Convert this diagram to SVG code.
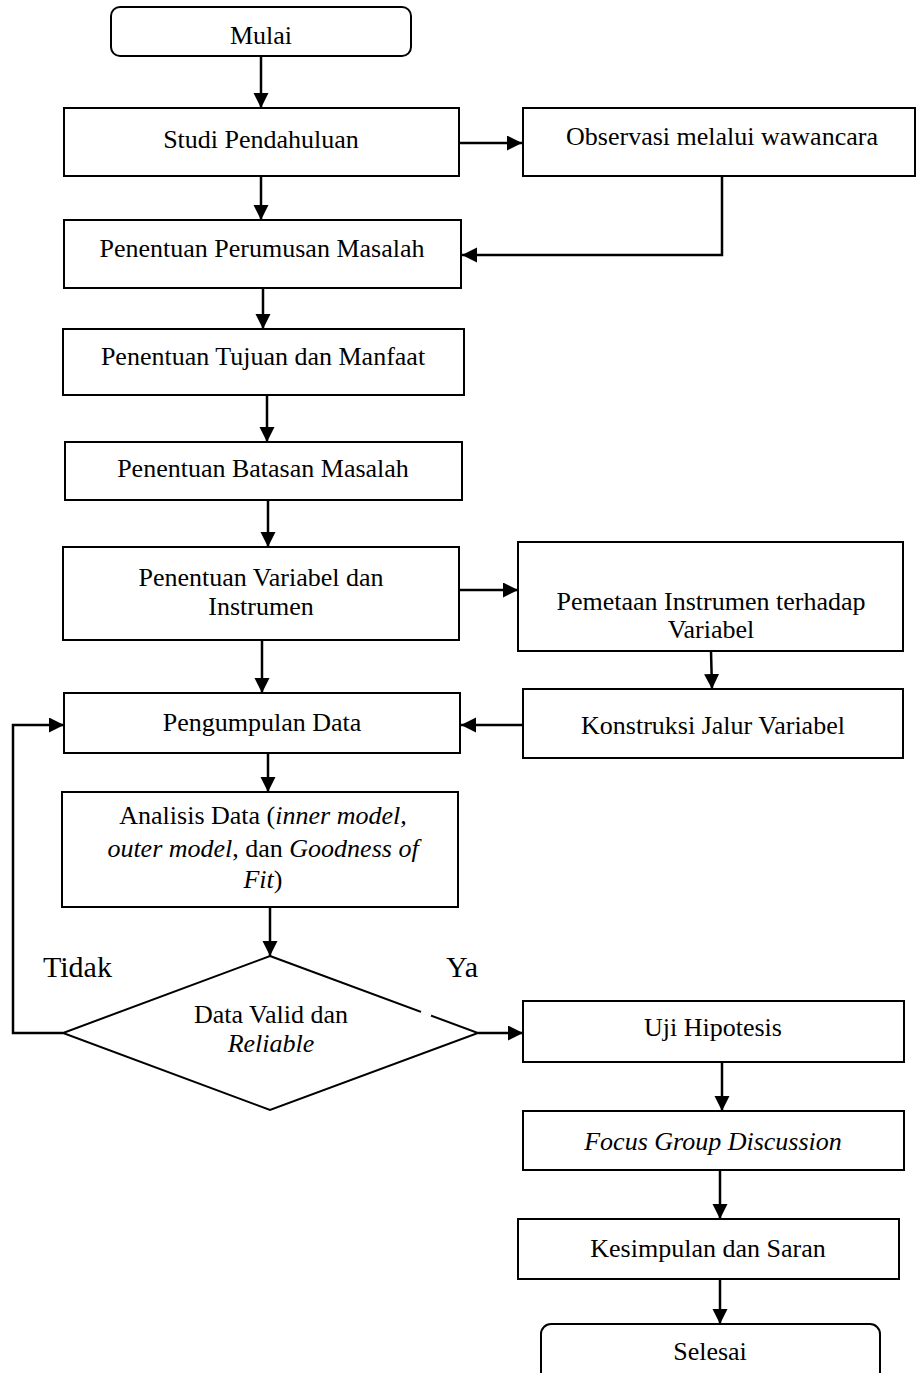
<svg xmlns="http://www.w3.org/2000/svg" width="917" height="1373" viewBox="0 0 917 1373">
  <style>
    .box { fill: #ffffff; stroke: #000000; stroke-width: 2; }
    .lbl { font-family: "Liberation Serif", "Times New Roman", serif; font-size: 26px; fill: #000000; text-anchor: middle; }
    .big { font-family: "Liberation Serif", "Times New Roman", serif; font-size: 30px; fill: #000000; }
    .it { font-style: italic; }
    .conn { fill: none; stroke: #000000; stroke-width: 2.5; marker-end: url(#arrow); }
  </style>
  <defs>
    <marker id="arrow" markerUnits="userSpaceOnUse" markerWidth="16" markerHeight="16" refX="15" refY="7.5" orient="auto">
      <path d="M0,0 L15,7.5 L0,15 Z" fill="#000000"/>
    </marker>
  </defs>
  <rect width="917" height="1373" fill="#ffffff"/>

  <g id="connectors">
    <path class="conn" d="M261,56 L261,108"/>
    <path class="conn" d="M459,143 L522,143"/>
    <path class="conn" d="M261,176 L261,220"/>
    <path class="conn" d="M722,176 L722,255 L462,255"/>
    <path class="conn" d="M263,288 L263,329"/>
    <path class="conn" d="M267,395 L267,442"/>
    <path class="conn" d="M268,500 L268,547"/>
    <path class="conn" d="M459,590 L518,590"/>
    <path class="conn" d="M711,651 L712,689"/>
    <path class="conn" d="M523,725 L461,725"/>
    <path class="conn" d="M262,640 L262,693"/>
    <path class="conn" d="M268,748 L268,792"/>
    <path class="conn" d="M270,908 L270,956"/>
    <path class="conn" d="M478,1033 L523,1033"/>
    <path class="conn" d="M63,1033 L13,1033 L13,725 L64,725"/>
    <path class="conn" d="M722,1062 L722,1111"/>
    <path class="conn" d="M720,1170 L720,1219"/>
    <path class="conn" d="M720,1279 L720,1324"/>
  </g>

  <g id="mulai">
    <rect class="box" x="111" y="7" width="300" height="49" rx="9"/>
    <text class="lbl" x="261" y="44">Mulai</text>
  </g>
  <g id="studi">
    <rect class="box" x="64" y="108" width="395" height="68"/>
    <text class="lbl" x="261" y="148">Studi Pendahuluan</text>
  </g>
  <g id="observasi">
    <rect class="box" x="523" y="108" width="392" height="68"/>
    <text class="lbl" x="722" y="145">Observasi melalui wawancara</text>
  </g>
  <g id="perumusan">
    <rect class="box" x="64" y="220" width="397" height="68"/>
    <text class="lbl" x="262" y="257">Penentuan Perumusan Masalah</text>
  </g>
  <g id="tujuan">
    <rect class="box" x="63" y="329" width="401" height="66"/>
    <text class="lbl" x="263" y="365">Penentuan Tujuan dan Manfaat</text>
  </g>
  <g id="batasan">
    <rect class="box" x="65" y="442" width="397" height="58"/>
    <text class="lbl" x="263" y="477">Penentuan Batasan Masalah</text>
  </g>
  <g id="variabel">
    <rect class="box" x="63" y="547" width="396" height="93"/>
    <text class="lbl" x="261" y="586">Penentuan Variabel dan</text>
    <text class="lbl" x="261" y="615">Instrumen</text>
  </g>
  <g id="pemetaan">
    <rect class="box" x="518" y="542" width="385" height="109"/>
    <text class="lbl" x="711" y="610">Pemetaan Instrumen terhadap</text>
    <text class="lbl" x="711" y="638">Variabel</text>
  </g>
  <g id="konstruksi">
    <rect class="box" x="523" y="689" width="380" height="69"/>
    <text class="lbl" x="713" y="734">Konstruksi Jalur Variabel</text>
  </g>
  <g id="pengumpulan">
    <rect class="box" x="64" y="693" width="396" height="60"/>
    <text class="lbl" x="262" y="731">Pengumpulan Data</text>
  </g>
  <g id="analisis">
    <rect class="box" x="62" y="792" width="396" height="115"/>
    <text class="lbl" x="263" y="824">Analisis Data (<tspan class="it">inner model,</tspan></text>
    <text class="lbl" x="263" y="857"><tspan class="it">outer model</tspan>, dan <tspan class="it">Goodness of</tspan></text>
    <text class="lbl" x="263" y="888"><tspan class="it">Fit</tspan>)</text>
  </g>
  <g id="keputusan">
    <polygon class="box" points="270,956 478,1033 270,1110 63,1033"/>
    <line x1="421" y1="1011.9" x2="431" y2="1015.6" stroke="#ffffff" stroke-width="3"/>
    <text class="lbl" x="271" y="1023">Data Valid dan</text>
    <text class="lbl it" x="271" y="1052">Reliable</text>
  </g>
  <g id="label-tidak">
    <text class="big" x="43" y="977">Tidak</text>
  </g>
  <g id="label-ya">
    <text class="big" x="446" y="977">Ya</text>
  </g>
  <g id="uji">
    <rect class="box" x="523" y="1001" width="381" height="61"/>
    <text class="lbl" x="713" y="1036">Uji Hipotesis</text>
  </g>
  <g id="fgd">
    <rect class="box" x="523" y="1111" width="381" height="59"/>
    <text class="lbl it" x="713" y="1150">Focus Group Discussion</text>
  </g>
  <g id="kesimpulan">
    <rect class="box" x="518" y="1219" width="381" height="60"/>
    <text class="lbl" x="708" y="1257">Kesimpulan dan Saran</text>
  </g>
  <g id="selesai">
    <rect class="box" x="541" y="1324" width="339" height="70" rx="10"/>
    <text class="lbl" x="710" y="1360">Selesai</text>
  </g>
</svg>
